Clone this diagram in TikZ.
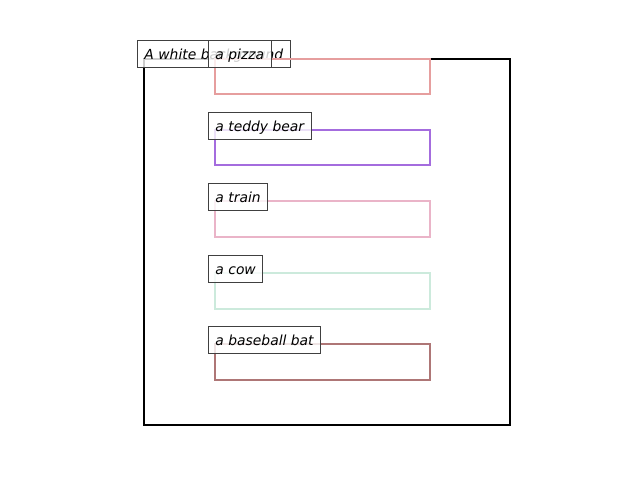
\documentclass[tikz,border=0pt]{standalone}
\usepackage{fontspec}
\setmainfont{DejaVu Sans}
\usepackage{tikz}
\usetikzlibrary{positioning}

\definecolor{pizzacol}{RGB}{230,158,158}
\definecolor{teddycol}{RGB}{164,108,222}
\definecolor{traincol}{RGB}{234,180,200}
\definecolor{cowcol}{RGB}{204,234,220}
\definecolor{batcol}{RGB}{174,118,118}

\tikzset{
  frame/.style={draw=black,line width=1.2pt},
  objbox/.style={line width=1.3pt},
  tag/.style={draw=black!75,fill=white,fill opacity=0.8,text opacity=1,
    line width=0.55pt,anchor=west,inner xsep=3.97pt,inner ysep=0pt,
    minimum height=15.9pt,text height=7pt,text depth=0.6pt,
    font=\fontsize{7.9}{9}\selectfont\itshape}
}

\begin{document}
\begin{tikzpicture}[x=0.02cm,y=-0.02cm]
\useasboundingbox (0,0) rectangle (640,480);

\coordinate (f0) at (144,59);
\coordinate (f1) at (510,425);

\coordinate (p0) at (215,59);
\coordinate (p1) at (430,94);
\coordinate (t0) at (215,130);
\coordinate (t1) at (430,165);
\coordinate (r0) at (215,201);
\coordinate (r1) at (430,237);
\coordinate (c0) at (215,273);
\coordinate (c1) at (430,309);
\coordinate (b0) at (215,344);
\coordinate (b1) at (430,380);

\draw[frame] (f0) rectangle (f1);
\node[tag] (bg) at (137,54) {A white background};

\draw[objbox,draw=pizzacol] (p0) rectangle (p1);
\node[tag] (pizza) at (208,54) {a pizza};

\draw[objbox,draw=teddycol] (t0) rectangle (t1);
\node[tag] (teddy) at (208,126) {a teddy bear};

\draw[objbox,draw=traincol] (r0) rectangle (r1);
\node[tag] (train) at (208,197) {a train};

\draw[objbox,draw=cowcol] (c0) rectangle (c1);
\node[tag] (cow) at (208,269) {a cow};

\draw[objbox,draw=batcol] (b0) rectangle (b1);
\node[tag] (bat) at (208,340) {a baseball bat};

\end{tikzpicture}
\end{document}
